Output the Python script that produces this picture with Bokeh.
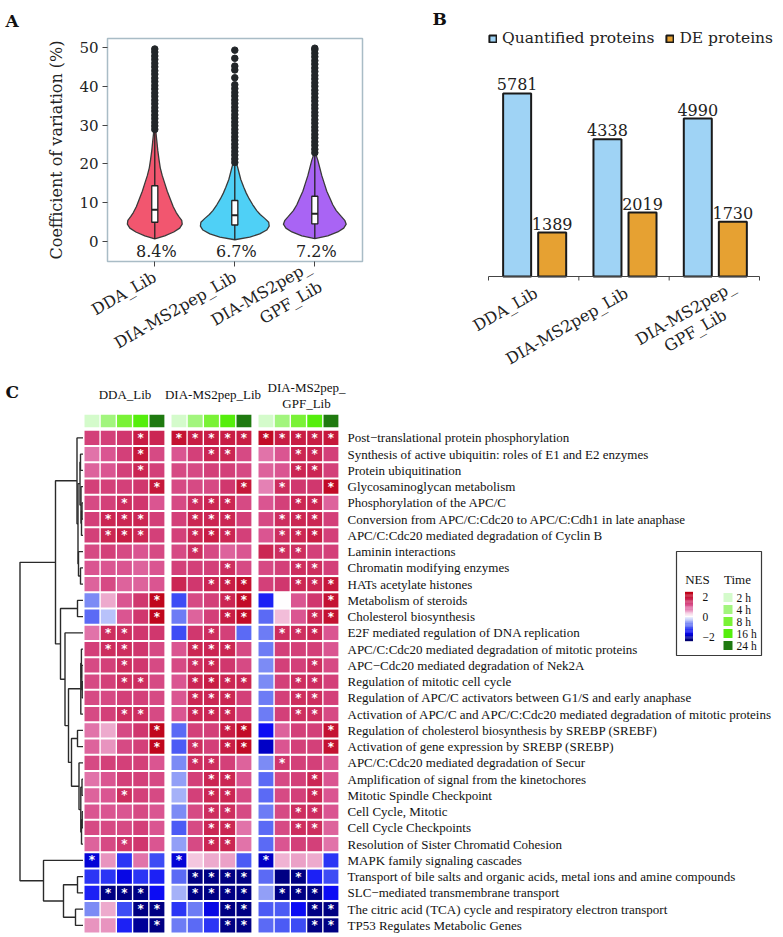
import numpy as np
from bokeh.plotting import figure
from bokeh.models import (Range1d, FixedTicker, Legend, LegendItem,
                          LinearColorMapper, ColumnDataSource)
from bokeh.layouts import column, row
from bokeh.embed import file_html
from bokeh.resources import INLINE
from bokeh.core.properties import value

SERIF = "DejaVu Serif"
HMF = "Liberation Serif"
INK = "#222222"

# ======================= DATA =======================
# ---- Panel A: CV violins ----
libraries = ["DDA_Lib", "DIA-MS2pep_Lib", "DIA-MS2pep_\nGPF_Lib"]
cv_ticks = [0, 10, 20, 30, 40, 50]
cv_median_labels = ["8.4%", "6.7%", "7.2%"]

dda_cv = [0.7, 1.5, 2.5, 3.5, 4.5, 5.5, 6.5, 7.5, 9.0, 11.0, 13.0, 15.0, 17.0, 19.0, 21.0, 23.5, 26.0, 28.5]
dda_dens = [0, 10, 19, 25, 27.5, 27, 24, 21.5, 18.5, 15.5, 12.5, 10, 7.5, 5.5, 4.3, 3, 2, 1]
ms2_cv = [0.5, 1.2, 2.0, 3.0, 4.0, 5.0, 6.0, 7.0, 8.0, 9.5, 11.0, 12.5, 14.0, 16.0, 18.0, 20.0]
ms2_dens = [0, 15, 25, 32, 34.5, 34, 30, 25.5, 22, 18, 14.5, 11.5, 9, 6, 4, 2]
gpf_cv = [0.8, 1.5, 2.5, 3.5, 4.5, 5.5, 6.5, 8.0, 9.5, 11.0, 13.0, 15.0, 17.0, 19.0, 21.0, 22.5]
gpf_dens = [0, 13, 23, 29, 31.5, 30, 26.5, 21.5, 18, 15.5, 12, 9.5, 7, 5, 3, 1]

box_q1 = [5.0, 4.3, 4.6]
box_med = [8.2, 6.8, 7.2]
box_q3 = [14.4, 10.6, 11.7]
whisk_lo = [0.7, 0.5, 0.8]
whisk_hi = [28.5, 20.0, 22.5]

dda_outliers = [28.9, 29.8, 30.7, 31.7, 32.6, 33.6, 34.5, 35.5, 36.4, 37.4, 38.3, 39.3,
                40.2, 41.2, 42.1, 43.1, 44.0, 45.0, 45.9, 46.9, 47.8, 48.8, 49.6]
ms2_outliers = [20.4, 21.3, 22.3, 23.2, 24.2, 25.1, 26.1, 27.0, 28.0, 28.9, 29.9, 30.8,
                31.8, 32.7, 33.7, 34.6, 35.6, 36.5, 37.5, 38.4, 39.4, 40.4, 42.2, 44.2,
                45.2, 47.2, 49.3]
gpf_outliers = [22.9, 23.8, 24.8, 25.7, 26.7, 27.6, 28.6, 29.5, 30.5, 31.4, 32.4, 33.3,
                34.3, 35.2, 36.2, 37.1, 38.1, 39.0, 40.0, 40.9, 41.9, 42.8, 43.8, 44.7,
                45.7, 46.6, 47.6, 48.5, 49.4, 49.8]

# ---- Panel B: protein counts ----
quantified = [5781, 4338, 4990]
de_proteins = [1389, 2019, 1730]

# ---- Panel C: NES heatmap ----
group_names = ["DDA_Lib", "DIA-MS2pep_Lib", "DIA-MS2pep_\nGPF_Lib"]
time_labels = ["2 h", "4 h", "8 h", "16 h", "24 h"]
pathways = [
    "Post\u2212translational protein phosphorylation",
    "Synthesis of active ubiquitin: roles of E1 and E2 enzymes",
    "Protein ubiquitination",
    "Glycosaminoglycan metabolism",
    "Phosphorylation of the APC/C",
    "Conversion from APC/C:Cdc20 to APC/C:Cdh1 in late anaphase",
    "APC/C:Cdc20 mediated degradation of Cyclin B",
    "Laminin interactions",
    "Chromatin modifying enzymes",
    "HATs acetylate histones",
    "Metabolism of steroids",
    "Cholesterol biosynthesis",
    "E2F mediated regulation of DNA replication",
    "APC/C:Cdc20 mediated degradation of mitotic proteins",
    "APC\u2212Cdc20 mediated degradation of Nek2A",
    "Regulation of mitotic cell cycle",
    "Regulation of APC/C activators between G1/S and early anaphase",
    "Activation of APC/C and APC/C:Cdc20 mediated degradation of mitotic proteins",
    "Regulation of cholesterol biosynthesis by SREBP (SREBF)",
    "Activation of gene expression by SREBP (SREBP)",
    "APC/C:Cdc20 mediated degradation of Secur",
    "Amplification of signal from the kinetochores",
    "Mitotic Spindle Checkpoint",
    "Cell Cycle,  Mitotic",
    "Cell Cycle Checkpoints",
    "Resolution of Sister Chromatid Cohesion",
    "MAPK family signaling cascades",
    "Transport of bile salts and organic acids, metal ions and amine compounds",
    "SLC\u2212mediated transmembrane transport",
    "The citric acid (TCA) cycle and respiratory electron transport",
    "TP53 Regulates Metabolic Genes",
]
# 15 columns: DDA 2-24 h, MS2pep 2-24 h, GPF 2-24 h
nes = [
    [1.1, 1.1, 1.2, 1.5, 1.4, 1.7, 1.5, 1.5, 1.5, 1.5, 1.8, 1.5, 1.5, 1.5, 1.6],
    [0.7, 0.9, 1.1, 1.6, 1.0, 0.9, 1.1, 1.4, 1.4, 1.0, 0.7, 0.9, 1.4, 1.4, 1.1],
    [0.8, 0.9, 1.1, 1.4, 1.1, 1.0, 1.0, 1.1, 1.1, 1.0, 0.8, 0.9, 1.4, 1.4, 1.1],
    [1.1, 1.1, 1.1, 1.2, 1.6, 1.0, 1.0, 1.0, 1.2, 1.6, 0.6, 1.3, 1.2, 1.2, 1.8],
    [1.0, 1.1, 1.3, 1.2, 0.9, 1.0, 1.3, 1.4, 1.4, 1.0, 0.9, 1.1, 1.4, 1.4, 0.8],
    [1.1, 1.4, 1.4, 1.4, 1.1, 1.1, 1.4, 1.4, 1.4, 1.1, 1.0, 1.3, 1.4, 1.4, 1.1],
    [1.1, 1.4, 1.5, 1.4, 1.1, 1.1, 1.4, 1.5, 1.4, 1.1, 0.9, 1.3, 1.4, 1.5, 1.1],
    [1.0, 1.1, 1.0, 0.9, 1.0, 1.0, 1.3, 1.0, 0.8, 0.9, 1.4, 1.3, 1.3, 1.1, 1.1],
    [0.9, 0.9, 0.9, 0.8, 0.9, 1.1, 1.1, 1.1, 1.3, 1.0, 1.0, 1.1, 1.3, 1.3, 1.1],
    [0.8, 1.0, 0.8, 0.8, 0.9, 1.4, 1.2, 1.4, 1.5, 1.7, 1.1, 1.2, 1.4, 1.4, 1.6],
    [-0.6, 0.4, 0.9, 1.2, 1.9, -1.0, 1.0, 1.1, 1.4, 1.8, -1.2, 0.0, 0.9, 1.2, 1.7],
    [-0.8, -0.3, 0.9, 1.2, 1.9, -0.7, 0.8, 1.1, 1.5, 1.8, -0.8, 0.3, 0.9, 1.4, 1.7],
    [0.7, 1.3, 1.3, 1.2, 1.2, -1.0, 1.2, 1.3, 1.1, -0.8, -0.7, 1.3, 1.3, 1.4, 0.9],
    [1.1, 1.3, 1.3, 1.2, 1.0, 0.9, 1.4, 1.4, 1.4, 1.0, -0.7, 1.1, 1.1, 1.1, 0.9],
    [1.0, 1.1, 1.3, 1.2, 1.0, 1.0, 1.3, 1.4, 1.2, 1.0, -0.6, 1.1, 1.1, 1.3, 1.0],
    [1.0, 1.1, 1.3, 1.3, 1.0, 0.9, 1.4, 1.5, 1.4, 1.4, -0.6, 1.1, 1.3, 1.3, 1.1],
    [1.0, 1.0, 1.1, 1.1, 1.0, 0.9, 1.4, 1.4, 1.4, 1.1, -0.7, 1.1, 1.3, 1.3, 1.1],
    [1.0, 1.1, 1.3, 1.3, 1.0, 0.9, 1.4, 1.4, 1.4, 1.1, -0.7, 1.1, 1.3, 1.3, 1.0],
    [0.7, 0.4, 1.0, 1.2, 1.9, -0.8, 1.1, 1.1, 1.5, 1.8, -1.3, 0.8, 1.1, 1.1, 1.7],
    [0.8, 0.5, 1.0, 1.1, 1.9, -0.9, 1.3, 1.1, 1.5, 1.8, -1.6, 0.9, 1.1, 1.1, 1.7],
    [1.0, 1.1, 1.1, 1.1, 0.9, -0.6, 1.3, 1.3, 1.1, 0.8, -0.6, 1.2, 1.1, 1.1, 0.9],
    [0.7, 0.9, 1.1, 1.1, 1.0, -0.5, 1.1, 1.4, 1.4, 0.9, -0.8, 1.0, 1.1, 1.4, 0.9],
    [0.8, 0.9, 1.3, 1.1, 1.0, -0.4, 1.1, 1.4, 1.4, 1.0, -0.8, 1.0, 1.1, 1.4, 0.9],
    [0.9, 0.9, 0.9, 1.0, 0.9, -0.6, 1.0, 1.3, 1.3, 1.0, -0.7, 1.0, 1.3, 1.3, 0.9],
    [1.0, 1.0, 1.0, 1.1, 0.9, -0.9, 1.0, 1.4, 1.4, 0.7, -0.8, 1.0, 1.3, 1.3, 0.8],
    [0.8, 1.0, 1.2, 1.2, 0.9, -0.5, 1.0, 1.4, 1.4, 0.7, -0.8, 0.9, 1.1, 1.1, 0.7],
    [-1.5, 0.5, -1.1, 0.7, -1.0, -1.5, 0.25, 0.4, 0.45, -0.9, -1.6, 0.35, 0.45, 0.4, -1.1],
    [-1.1, -1.1, -1.4, -1.1, -1.2, -0.8, -1.9, -1.9, -1.9, -1.9, -0.8, -1.9, -1.9, -1.2, -1.0],
    [-1.2, -1.9, -1.9, -1.9, -1.3, -0.4, -1.9, -1.9, -1.9, -1.9, -0.5, -1.9, -1.9, -1.9, -1.3],
    [-0.6, 0.4, -1.0, -1.9, -1.9, -1.1, -0.7, -1.4, -1.9, -1.9, -0.9, -0.9, -1.3, -1.9, -1.9],
    [0.5, 0.5, -1.2, -1.8, -1.9, -0.7, -0.8, -1.1, -1.9, -1.9, -0.8, -0.9, -1.0, -1.9, -1.9],
]
signif = [
    "...*. ***** *****", "...*. ..**. ..**.", "...*. ..... ..**.", "....* ....* .*..*",
    "..*.. .***. ..**.", ".***. .***. .***.", ".***. .***. .***.", "..... .*... .**..",
    "..... ...*. ..**.", "..... ..*** ..***", "....* ...** ....*", "....* ...** ...**",
    ".**.. ..*.. .***.", ".**.. .***. .....", "..*.. .**.. ...*.", "..**. .**** ..**.",
    "..... .***. ..**.", "..**. .***. ..**.", "....* ...** ....*", "....* .*.** ....*",
    "..... .**.. .*...", "..... ..**. ...*.", "..*.. ..**. ...*.", "..... ..**. ..**.",
    "..... ..**. ..**.", "..*.. ..**. .....", "*.... *.... *....", "..... .**** ..*..",
    ".***. .**** .***.", "...** ...** ...**", "....* ...** ...**",
]
# hierarchical clustering of rows: (child_a, child_b, merge height); ids >= 31 are earlier merges
row_merges = [
    (1, 2, 2.5), (4, 5, 1.0), (32, 6, 1.5), (3, 33, 2.0), (31, 34, 3.0),
    (8, 9, 2.5), (7, 36, 4.5), (35, 37, 5.0), (0, 38, 6.0), (10, 11, 5.5),
    (15, 16, 0.8), (14, 41, 1.2), (13, 42, 1.6), (43, 17, 2.2), (18, 19, 5.5),
    (21, 22, 1.0), (23, 24, 0.8), (47, 25, 1.5), (46, 48, 2.2), (20, 49, 4.0),
    (45, 50, 11.5), (44, 51, 14.5), (12, 52, 18.0), (40, 53, 22.5), (39, 54, 27.5),
    (27, 28, 5.5), (29, 30, 7.5), (56, 57, 19.5), (26, 58, 39.5), (55, 59, 63.0),
]
nes_legend_ticks = [2, 0, -2]
nes_legend_labels = ["2", "0", "\u22122"]

# ======================= STYLES =======================
violin_colors = ["#f2566f", "#4fd0f6", "#a964f4"]
BAR_BLUE = "#9fd3f5"
BAR_ORANGE = "#e6a132"
time_colors = ["#d4fbcb", "#a2f57d", "#7af236", "#55ee0c", "#1f7a10"]

nes_stops = [-2.0, -1.6, -1.3, -1.0, -0.6, -0.3, 0.0, 0.3, 0.6, 0.9, 1.2, 1.5, 2.0]
stop_rgb = [(0, 0, 110), (0, 0, 200), (12, 12, 245), (60, 75, 245), (125, 140, 245),
            (185, 195, 250), (255, 255, 255), (242, 190, 218), (228, 130, 180),
            (218, 85, 145), (208, 55, 110), (200, 30, 70), (190, 0, 20)]
_grid = np.linspace(-2, 2, 256)
palette = ["#%02x%02x%02x" % tuple(int(round(np.interp(v, nes_stops, [c[k] for c in stop_rgb])))
                                   for k in range(3)) for v in _grid]
mapper = LinearColorMapper(palette=palette, low=-2, high=2)

# ======================= PANEL A =======================
pA = figure(width=391, height=370, output_backend="svg", toolbar_location=None,
            x_range=Range1d(-0.091, 3.096), y_range=Range1d(-5.10, 52.3),
            min_border_left=107, min_border_right=29, min_border_top=38, min_border_bottom=107)
pA.frame_align = False
pA.grid.visible = False
pA.outline_line_color = "#a9bcc6"
pA.outline_line_width = 1.5

xc = [0.5, 1.5, 2.5]
dmax = max(dda_dens + ms2_dens + gpf_dens)
for i, (cvs, dens) in enumerate([(dda_cv, dda_dens), (ms2_cv, ms2_dens), (gpf_cv, gpf_dens)]):
    hw = np.array(dens) / dmax * 0.43
    xs = list(xc[i] + hw) + list((xc[i] - hw)[::-1])
    ys = list(cvs) + list(cvs[::-1])
    pA.patch(xs, ys, fill_color=violin_colors[i], line_color="#3a3a3a", line_width=1.3)

pA.segment(x0=xc, y0=whisk_lo, x1=xc, y1=whisk_hi, line_color=INK, line_width=1.3)
bw = 0.038
pA.quad(left=[x - bw for x in xc], right=[x + bw for x in xc], bottom=box_q1, top=box_q3,
        fill_color="white", line_color=INK, line_width=1.3)
pA.segment(x0=[x - bw for x in xc], x1=[x + bw for x in xc], y0=box_med, y1=box_med,
           line_color=INK, line_width=2)
for i, outs in enumerate([dda_outliers, ms2_outliers, gpf_outliers]):
    pA.scatter([xc[i]] * len(outs), outs, size=6.5, fill_color="#222629", line_color="#222629")
pA.text(x=[x + 0.02 for x in xc], y=[-2.55] * 3, text=cv_median_labels, text_align="center",
        text_baseline="middle", text_font=value(SERIF), text_font_size="16px", text_color=INK)

pA.yaxis.ticker = FixedTicker(ticks=cv_ticks)
pA.yaxis.axis_label = "Coefficient of variation (%)"
pA.yaxis.axis_label_text_font = SERIF
pA.yaxis.axis_label_text_font_style = "normal"
pA.yaxis.axis_label_text_font_size = "16px"
pA.yaxis.axis_label_text_color = INK
pA.yaxis.axis_label_standoff = 10
pA.xaxis.ticker = FixedTicker(ticks=xc)
pA.xaxis.major_label_overrides = {xc[i]: libraries[i] for i in range(3)}
pA.xaxis.major_label_orientation = np.pi / 6
for ax in (pA.xaxis, pA.yaxis):
    ax.axis_line_color = None
    ax.major_tick_line_color = "#444444"
    ax.major_tick_out = 5
    ax.major_tick_in = 0
    ax.minor_tick_line_color = None
    ax.major_label_text_font = SERIF
    ax.major_label_text_color = INK
pA.yaxis.major_label_text_font_size = "15px"
pA.yaxis.major_label_standoff = 4
pA.xaxis.major_label_text_font_size = "16px"
pA.xaxis.major_label_standoff = 9
pA.title.text = "A"
pA.title.text_font = SERIF
pA.title.text_font_style = "bold"
pA.title.text_font_size = "17px"
pA.title.text_color = "#111111"
pA.title.align = "left"
pA.title.offset = -102
pA.title.standoff = 16

# ======================= PANEL B =======================
BW_PX = 90.33          # px per library group
PXV = 0.03166          # px per protein
B_W, B_H, BASE = 392, 370, 276
pB = figure(width=B_W, height=B_H, output_backend="svg", toolbar_location=None,
            x_range=Range1d(-97 / BW_PX, -97 / BW_PX + B_W / BW_PX),
            y_range=Range1d(-(B_H - BASE) / PXV, BASE / PXV),
            x_axis_type=None, y_axis_type=None, min_border=0)
pB.frame_align = False
pB.grid.visible = False
pB.outline_line_color = None
n_g = len(quantified)
gx = [i + 0.5 for i in range(n_g)]
xq = [g - 0.183 for g in gx]
xd = [g + 0.205 for g in gx]
rq = pB.vbar(x=xq, top=quantified, width=0.31, fill_color=BAR_BLUE, line_color="#1a1a1a", line_width=2)
rd = pB.vbar(x=xd, top=de_proteins, width=0.31, fill_color=BAR_ORANGE, line_color="#1a1a1a", line_width=2)
# category axis: baseline, boundary ticks, rotated labels
pB.segment(x0=[0], x1=[n_g], y0=[0], y1=[0], line_color="#444444", line_width=1)
pB.segment(x0=list(range(n_g + 1)), x1=list(range(n_g + 1)), y0=[0] * (n_g + 1),
           y1=[-4 / PXV] * (n_g + 1), line_color="#444444", line_width=1)
single = [i for i in range(n_g) if "\n" not in libraries[i]]
pB.text(x=[gx[i] for i in single], y=[0] * len(single), text=[libraries[i] for i in single],
        x_offset=2.5, y_offset=15, angle=np.pi / 6, text_align="right", text_baseline="middle",
        text_font=value(SERIF), text_font_size="16px", text_color=INK)
for i in range(n_g):
    if "\n" in libraries[i]:
        l1, l2 = libraries[i].split("\n")
        pB.text(x=[gx[i], gx[i]], y=[0, 0], text=[l1, l2], x_offset=[-29, -19],
                y_offset=[36.5, 54], angle=np.pi / 6, text_align="center",
                text_baseline="middle", text_font=value(SERIF), text_font_size="16px",
                text_color=INK)
pB.text(x=xq + xd, y=quantified + de_proteins, text=[str(v) for v in quantified + de_proteins],
        text_align="center", text_baseline="bottom", y_offset=-3, text_font=value(SERIF),
        text_font_size="16px", text_color=INK)
pB.text(x=[-56 / BW_PX], y=[(BASE - 18) / PXV], text=["B"], text_align="left",
        text_baseline="middle", text_font=value(SERIF), text_font_style="bold",
        text_font_size="17px", text_color="#111111")
leg = Legend(items=[LegendItem(label="Quantified proteins", renderers=[rq]),
                    LegendItem(label="DE proteins", renderers=[rd])],
             orientation="horizontal", location=(97, 323), glyph_width=9, glyph_height=9,
             label_standoff=5, spacing=11, padding=0, margin=0, border_line_color=None,
             background_fill_alpha=0, label_text_font=SERIF, label_text_font_size="15.5px",
             label_text_color=INK)
pB.add_layout(leg)

# ======================= PANEL C =======================
ROW_PX = 16.25


def hx(px):
    return (px - 91.45) / 16.25


def hy(py):
    return (py - 437.4) / ROW_PX


pH = figure(width=783, height=567, output_backend="svg", toolbar_location=None,
            x_range=Range1d(hx(0), hx(783)), y_range=Range1d(hy(937), hy(370)),
            x_axis_type=None, y_axis_type=None, min_border=0)
pH.frame_align = False
pH.grid.visible = False
pH.outline_line_color = None

GSTEP = 5.354
col_pos = [g * GSTEP + c for g in range(3) for c in range(5)]
cx, cy, cv, sx, sy = [], [], [], [], []
for r in range(len(pathways)):
    flags = signif[r].replace(" ", "")
    for j in range(15):
        cx.append(col_pos[j]); cy.append(r); cv.append(nes[r][j])
        if flags[j] == "*":
            sx.append(col_pos[j]); sy.append(r)
src = ColumnDataSource(dict(x=cx, y=cy, nes=cv))
pH.rect(x="x", y="y", width=0.915, height=0.87, source=src,
        fill_color={"field": "nes", "transform": mapper}, line_color=None)
pH.text(x=sx, y=sy, text=["*"] * len(sx), text_align="center", text_baseline="middle",
        text_font=value("DejaVu Sans"), text_font_style="bold", text_font_size="12px",
        text_color="white")
# time header row
pH.rect(x=col_pos, y=[hy(420.5)] * 15, width=0.915, height=12.5 / ROW_PX,
        fill_color=time_colors * 3, line_color=None)
# row labels
pH.text(x=[hx(347)] * len(pathways), y=list(range(len(pathways))), text=pathways,
        text_align="left", text_baseline="middle", text_font=value(HMF),
        text_font_size="13px", text_color="#111111")
# group labels
pH.text(x=[hx(124.5), hx(212.5)], y=[hy(394)] * 2, text=group_names[:2],
        text_align="center", text_baseline="middle", text_font=value(HMF),
        text_font_size="13px", text_color="#111111")
pH.text(x=[hx(306), hx(306)], y=[hy(386.5), hy(402.5)], text=group_names[2].split("\n"),
        text_align="center", text_baseline="middle", text_font=value(HMF),
        text_font_size="13px", text_color="#111111")
pH.text(x=[hx(5)], y=[hy(391)], text=["C"], text_align="left", text_baseline="middle",
        text_font=value(SERIF), text_font_style="bold", text_font_size="17px",
        text_color="#111111")

# dendrogram
n_leaf = len(pathways)
pos = {i: float(i) for i in range(n_leaf)}
hgt = {i: 0.0 for i in range(n_leaf)}
dxs, dys = [], []
LEAF_X = 82.5
for k, (a, b, h) in enumerate(row_merges):
    node = n_leaf + k
    pos[node] = (pos[a] + pos[b]) / 2
    hgt[node] = h
    dxs.append([hx(LEAF_X - hgt[a]), hx(LEAF_X - h), hx(LEAF_X - h), hx(LEAF_X - hgt[b])])
    dys.append([pos[a], pos[a], pos[b], pos[b]])
pH.multi_line(xs=dxs, ys=dys, line_color="#2a2a2a", line_width=1.4)

# legend box
pH.quad(left=[hx(676)], right=[hx(761)], top=[hy(551)], bottom=[hy(655)],
        fill_color="white", line_color="#3a3a3a", line_width=1.2)
pH.text(x=[hx(697), hx(737)], y=[hy(579)] * 2, text=["NES", "Time"], text_align="center",
        text_baseline="middle", text_font=value(HMF), text_font_size="13px", text_color="#111111")
ramp = np.linspace(2, -2, 41)
ry0, ry1 = hy(592), hy(640)
pH.rect(x=[hx(688.5)] * len(ramp), y=list(ry0 + (ry1 - ry0) * (2 - ramp) / 4),
        width=8 / 16.25, height=(ry1 - ry0) / 40 * 1.15,
        fill_color=[palette[int(round((v + 2) / 4 * 255))] for v in ramp], line_color=None)
pH.text(x=[hx(702)] * 3, y=[hy(596 + (2 - t) / 4 * 40) for t in nes_legend_ticks],
        text=nes_legend_labels, text_align="left", text_baseline="middle",
        text_font=value(HMF), text_font_size="11.5px", text_color="#111111")
pH.rect(x=[hx(727.5)] * 5, y=[hy(597 + 12 * k) for k in range(5)], width=9 / 16.25,
        height=9 / ROW_PX, fill_color=time_colors, line_color=None)
pH.text(x=[hx(736)] * 5, y=[hy(597 + 12 * k) for k in range(5)], text=time_labels,
        text_align="left", text_baseline="middle", text_font=value(HMF),
        text_font_size="11.5px", text_color="#111111")

for p in (pA, pB, pH):
    p.background_fill_color = "white"
    p.border_fill_color = "white"

layout = column(row(pA, pB), pH)
open("out.html", "w").write(file_html(layout, INLINE))
